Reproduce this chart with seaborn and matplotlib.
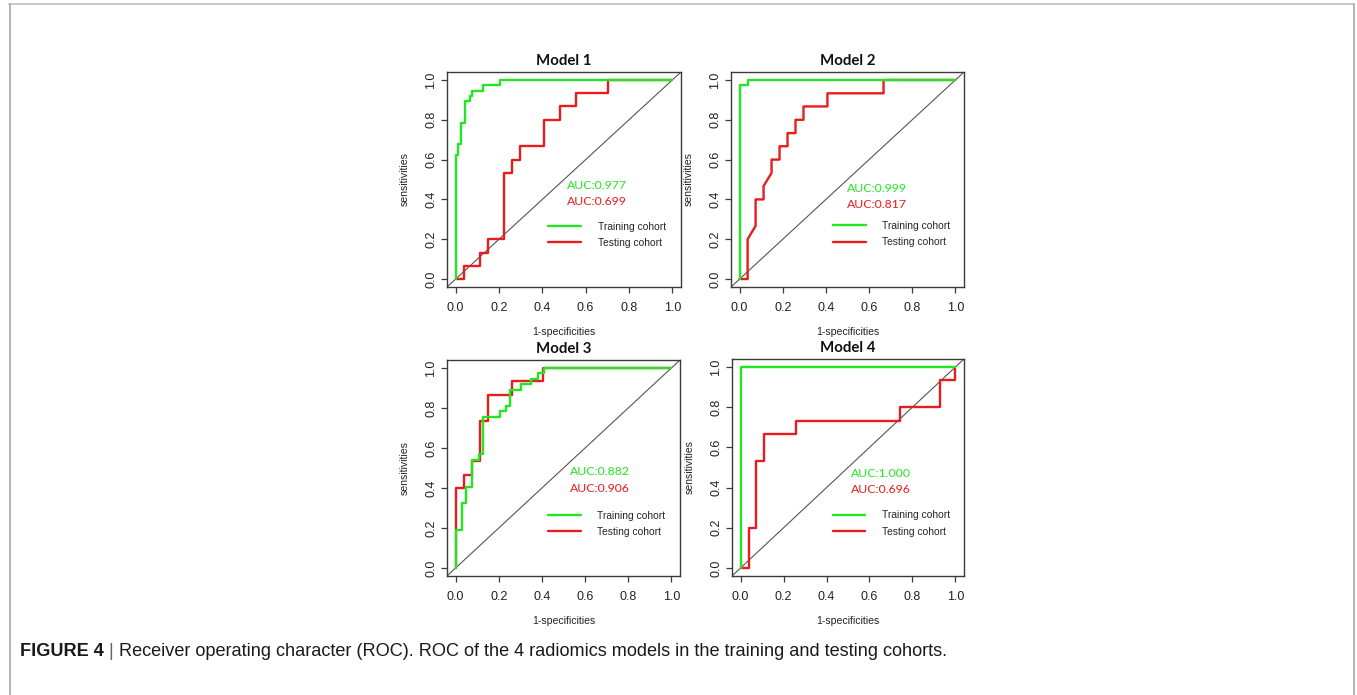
import numpy as np
import pandas as pd
import matplotlib
matplotlib.use("Agg")
import matplotlib.pyplot as plt
from matplotlib.lines import Line2D
import seaborn as sns

# ---------------- data ----------------
models = ["Model 1", "Model 2", "Model 3", "Model 4"]
auc_train = ["0.977", "0.999", "0.882", "1.000"]
auc_test = ["0.699", "0.817", "0.906", "0.696"]
cohorts = ["Training cohort", "Testing cohort"]
ticks = [0.0, 0.2, 0.4, 0.6, 0.8, 1.0]
tick_labels = ["0.0", "0.2", "0.4", "0.6", "0.8", "1.0"]

m1_train_fpr = [0, 0, 0.011, 0.011, 0.025, 0.025, 0.042, 0.042, 0.065, 0.065, 0.074, 0.074, 0.124, 0.124, 0.205, 0.205, 1]
m1_train_tpr = [0, 0.622, 0.622, 0.676, 0.676, 0.784, 0.784, 0.892, 0.892, 0.919, 0.919, 0.946, 0.946, 0.973, 0.973, 1, 1]
m1_test_fpr = [0, 0.037, 0.037, 0.111, 0.111, 0.148, 0.148, 0.222, 0.222, 0.259, 0.259, 0.296, 0.296, 0.407, 0.407, 0.481, 0.481, 0.556, 0.556, 0.704, 0.704, 1]
m1_test_tpr = [0, 0, 0.067, 0.067, 0.133, 0.133, 0.2, 0.2, 0.533, 0.533, 0.6, 0.6, 0.667, 0.667, 0.8, 0.8, 0.867, 0.867, 0.933, 0.933, 1, 1]

m2_train_fpr = [0, 0, 0.037, 0.037, 1]
m2_train_tpr = [0, 0.973, 0.973, 1, 1]
m2_test_fpr = [0, 0.037, 0.037, 0.074, 0.074, 0.111, 0.111, 0.148, 0.148, 0.185, 0.185, 0.222, 0.222, 0.259, 0.259, 0.296, 0.296, 0.407, 0.407, 0.667, 0.667, 1]
m2_test_tpr = [0, 0, 0.2, 0.267, 0.4, 0.4, 0.467, 0.533, 0.6, 0.6, 0.667, 0.667, 0.733, 0.733, 0.8, 0.8, 0.867, 0.867, 0.933, 0.933, 1, 1]

m3_train_fpr = [0, 0, 0.029, 0.029, 0.046, 0.046, 0.076, 0.076, 0.110, 0.110, 0.125, 0.125, 0.204, 0.204, 0.235, 0.235, 0.250, 0.250, 0.303, 0.303, 0.349, 0.349, 0.380, 0.380, 0.408, 0.408, 1]
m3_train_tpr = [0, 0.189, 0.189, 0.324, 0.324, 0.405, 0.405, 0.541, 0.541, 0.568, 0.568, 0.757, 0.757, 0.784, 0.784, 0.811, 0.811, 0.892, 0.892, 0.919, 0.919, 0.946, 0.946, 0.973, 0.973, 1, 1]
m3_test_fpr = [0, 0, 0.037, 0.037, 0.074, 0.074, 0.111, 0.111, 0.148, 0.148, 0.259, 0.259, 0.407, 0.407, 1]
m3_test_tpr = [0, 0.4, 0.4, 0.467, 0.467, 0.533, 0.533, 0.733, 0.733, 0.867, 0.867, 0.933, 0.933, 1, 1]

m4_train_fpr = [0, 0, 1]
m4_train_tpr = [0, 1, 1]
m4_test_fpr = [0, 0.037, 0.037, 0.074, 0.074, 0.111, 0.111, 0.259, 0.259, 0.741, 0.741, 0.926, 0.926, 1, 1]
m4_test_tpr = [0, 0, 0.2, 0.2, 0.533, 0.533, 0.667, 0.667, 0.733, 0.733, 0.8, 0.8, 0.933, 0.933, 1]

curves = [
    (m1_train_fpr, m1_train_tpr, m1_test_fpr, m1_test_tpr),
    (m2_train_fpr, m2_train_tpr, m2_test_fpr, m2_test_tpr),
    (m3_train_fpr, m3_train_tpr, m3_test_fpr, m3_test_tpr),
    (m4_train_fpr, m4_train_tpr, m4_test_fpr, m4_test_tpr),
]

# ---------------- style ----------------
sns.set_style("white")
plt.rcParams["font.family"] = ["Liberation Sans", "DejaVu Sans"]

GREEN = "#22e622"
RED = "#e81c1c"
FRAME = "#3a3a3a"

W, H = 1357, 695
fig = plt.figure(figsize=(W / 100, H / 100), dpi=100)

# panel boxes in pixels: (left, top, right, bottom)
boxes = [(447, 72, 681, 287), (731, 72, 964, 287), (447, 360, 680, 576), (732, 359, 964, 576)]

auc_pos = [(0.516, 0.472, 0.389), (0.498, 0.456, 0.376), (0.532, 0.483, 0.400), (0.516, 0.471, 0.391)]
leg_pos = [(0.428, 0.222), (0.431, 0.226), (0.428, 0.220), (0.428, 0.221)]

for i, (l, t, r, b) in enumerate(boxes):
    ax = fig.add_axes([l / W, 1 - b / H, (r - l) / W, (b - t) / H])
    trf, trt, tef, tet = curves[i]
    df_te = pd.DataFrame({"fpr": tef, "tpr": tet})
    df_tr = pd.DataFrame({"fpr": trf, "tpr": trt})
    sns.lineplot(data=df_te, x="fpr", y="tpr", sort=False, estimator=None, color=RED,
                 lw=1.7, ax=ax, label=cohorts[1], zorder=3)
    sns.lineplot(data=df_tr, x="fpr", y="tpr", sort=False, estimator=None, color=GREEN,
                 lw=1.7, ax=ax, label=cohorts[0], zorder=4)
    ax.axline((0, 0), (1, 1), color="#555555", lw=0.8, zorder=2)
    ax.set_xlim(-0.04, 1.04)
    ax.set_ylim(-0.04, 1.04)
    ax.set_xticks(ticks)
    ax.set_xticklabels(tick_labels)
    ax.set_yticks(ticks)
    ax.set_yticklabels(tick_labels, rotation=90, va="center")
    ax.tick_params(axis="both", direction="out", length=4, width=0.9, color=FRAME,
                   labelsize=9, labelcolor="#222222", left=True, bottom=True)
    ax.tick_params(axis="x", pad=7)
    ax.tick_params(axis="y", pad=3)
    for s in ax.spines.values():
        s.set_color(FRAME)
        s.set_linewidth(1.0)
    ax.set_xlabel("1-specificities", fontsize=7.6, color="#222222", labelpad=9)
    ax.set_ylabel("sensitivities", fontsize=7.6, color="#222222", labelpad=11)
    ax.set_title(models[i], fontsize=10.8, fontweight="bold", family="Lato", pad=5, color="#111111")

    ax_x, y1, y2 = auc_pos[i]
    ax.text(ax_x, y1, "AUC:" + auc_train[i], color=GREEN, fontsize=8.8, family="Lato",
            ha="left", va="center")
    ax.text(ax_x, y2, "AUC:" + auc_test[i], color=RED, fontsize=8.8, family="Lato",
            ha="left", va="center")

    handles, labels = ax.get_legend_handles_labels()
    order = [labels.index(cohorts[0]), labels.index(cohorts[1])]
    lx, ly = leg_pos[i]
    ax.legend([handles[k] for k in order], [labels[k] for k in order],
              loc="center left", bbox_to_anchor=(lx, ly), bbox_transform=ax.transData,
              frameon=False, fontsize=7.4, handlelength=3.2, handletextpad=1.6,
              labelspacing=0.6, borderpad=0, borderaxespad=0)

# ---------------- figure frame & caption ----------------
fig.add_artist(Line2D([9 / W, 1354 / W], [1 - 4 / H, 1 - 4 / H], transform=fig.transFigure,
                      color="#c8c8c8", lw=1.4))
fig.add_artist(Line2D([9.5 / W, 9.5 / W], [1 - 4 / H, 0], transform=fig.transFigure,
                      color="#a8a8a8", lw=1.2))
fig.add_artist(Line2D([1354 / W, 1354 / W], [1 - 4 / H, 0], transform=fig.transFigure,
                      color="#a8a8a8", lw=1.2))

cap_y = 1 - 652 / H
cap_fs = 13.05
t1 = fig.text(20 / W, cap_y, "FIGURE 4", fontsize=cap_fs, fontweight="bold", color="#1a1a1a",
              va="center", ha="left")
renderer = fig.canvas.get_renderer()
bb = t1.get_window_extent(renderer)
t2 = fig.text(bb.x1 / W + 5 / W, cap_y, "|", fontsize=cap_fs, color="#666666", va="center", ha="left")
bb2 = t2.get_window_extent(renderer)
fig.text(bb2.x1 / W + 5 / W, cap_y,
         "Receiver operating character (ROC). ROC of the 4 radiomics models in the training and testing cohorts.",
         fontsize=cap_fs, color="#1a1a1a", va="center", ha="left")

fig.savefig("out.png", dpi=100, facecolor="white")
